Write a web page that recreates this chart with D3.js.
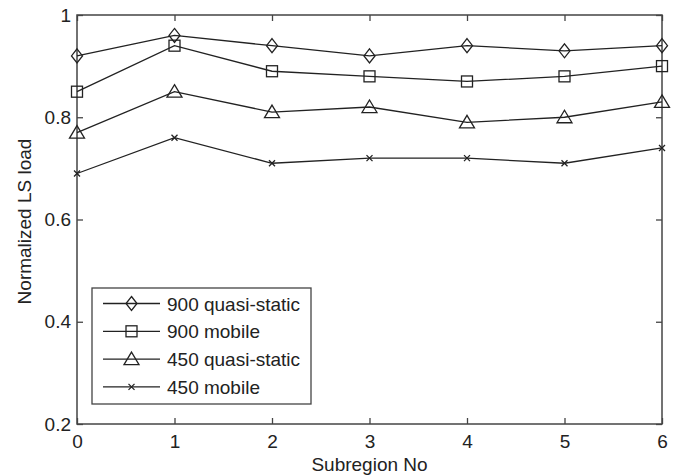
<!DOCTYPE html>
<html>
<head>
<meta charset="utf-8">
<script src="https://cdn.jsdelivr.net/npm/d3@7"></script>
<style>
  body { margin: 0; background: #fff; }
  text { font-family: "Liberation Sans", Arial, sans-serif; fill: #222; }
</style>
</head>
<body>
<svg id="chart" width="679" height="476"></svg>
<script>
// values
const subregions = [0, 1, 2, 3, 4, 5, 6];
const q900 = [0.92, 0.96, 0.94, 0.92, 0.94, 0.93, 0.94];
const m900 = [0.85, 0.94, 0.89, 0.88, 0.87, 0.88, 0.90];
const q450 = [0.77, 0.85, 0.81, 0.82, 0.79, 0.80, 0.83];
const m450 = [0.69, 0.76, 0.71, 0.72, 0.72, 0.71, 0.74];
const seriesNames = ["900 quasi-static", "900 mobile", "450 quasi-static", "450 mobile"];
const seriesMarkers = ["diamond", "square", "triangle", "cross"];
const yTicks = [0.2, 0.4, 0.6, 0.8, 1];
const yTickLabels = ["0.2", "0.4", "0.6", "0.8", "1"];

const series = [q900, m900, q450, m450].map(function(vals, i) {
    return { name: seriesNames[i], marker: seriesMarkers[i], values: vals };
});

const svg = d3.select("#chart");
const plotLeft = 77, plotRight = 662, plotTop = 15, plotBottom = 424;
const fontSize = "19px";

const x = d3.scaleLinear().domain([0, 6]).range([plotLeft, plotRight]);
const y = d3.scaleLinear().domain([0.2, 1]).range([plotBottom, plotTop]);

const axisColor = "#444";
const lineColor = "#222";

// axes (matlab style box, ticks pointing inward)
function styleAxis(g) {
    g.select(".domain").remove();
    g.selectAll("line").attr("stroke", axisColor).attr("stroke-width", 1.3);
    g.selectAll("text").style("font-size", fontSize).attr("fill", "#222");
}

svg.append("g")
    .attr("transform", "translate(0," + plotBottom + ")")
    .call(d3.axisBottom(x).tickValues(subregions).tickSize(-6).tickPadding(11).tickFormat(d3.format("d")))
    .call(styleAxis);

svg.append("g")
    .attr("transform", "translate(0," + plotTop + ")")
    .call(d3.axisTop(x).tickValues(subregions).tickSize(-6).tickFormat(""))
    .call(styleAxis);

svg.append("g")
    .attr("transform", "translate(" + plotLeft + ",0)")
    .call(d3.axisLeft(y).tickValues(yTicks).tickSize(-6).tickPadding(6)
        .tickFormat(function(d, i) { return yTickLabels[i]; }))
    .call(styleAxis);

svg.append("g")
    .attr("transform", "translate(" + plotRight + ",0)")
    .call(d3.axisRight(y).tickValues(yTicks).tickSize(-6).tickFormat(""))
    .call(styleAxis);

svg.append("rect")
    .attr("x", plotLeft).attr("y", plotTop)
    .attr("width", plotRight - plotLeft).attr("height", plotBottom - plotTop)
    .attr("fill", "none").attr("stroke", axisColor).attr("stroke-width", 1.5);

// axis titles
svg.append("text")
    .attr("x", (plotLeft + plotRight) / 2).attr("y", 471)
    .attr("text-anchor", "middle")
    .style("font-size", fontSize)
    .text("Subregion No");

svg.append("text")
    .attr("transform", "translate(30.5," + ((plotTop + plotBottom) / 2 + 2) + ") rotate(-90)")
    .attr("text-anchor", "middle")
    .style("font-size", fontSize)
    .text("Normalized LS load");

// markers
function drawMarker(g, type, cx, cy) {
    const st = { fill: "none", stroke: lineColor, "stroke-width": 1.3 };
    let m;
    if (type === "diamond") {
        m = g.append("path").attr("d", "M" + cx + "," + (cy - 7) + "L" + (cx + 5.5) + "," + cy +
            "L" + cx + "," + (cy + 7) + "L" + (cx - 5.5) + "," + cy + "Z");
    } else if (type === "square") {
        m = g.append("rect").attr("x", cx - 5.5).attr("y", cy - 5.5).attr("width", 11).attr("height", 11);
    } else if (type === "triangle") {
        m = g.append("path").attr("d", "M" + cx + "," + (cy - 7) + "L" + (cx + 7.5) + "," + (cy + 5.5) +
            "L" + (cx - 7.5) + "," + (cy + 5.5) + "Z");
    } else {
        m = g.append("path").attr("d", "M" + (cx - 3) + "," + (cy - 3) + "L" + (cx + 3) + "," + (cy + 3) +
            "M" + (cx - 3) + "," + (cy + 3) + "L" + (cx + 3) + "," + (cy - 3));
    }
    Object.keys(st).forEach(function(k) { m.attr(k, st[k]); });
}

const line = d3.line()
    .x(function(d, i) { return x(subregions[i]); })
    .y(function(d) { return y(d); });

series.forEach(function(s) {
    const g = svg.append("g");
    g.append("path")
        .datum(s.values)
        .attr("d", line)
        .attr("fill", "none")
        .attr("stroke", lineColor)
        .attr("stroke-width", 1.3);
    s.values.forEach(function(v, i) {
        drawMarker(g, s.marker, x(subregions[i]), y(v));
    });
});

// legend
const legend = svg.append("g");
legend.append("rect")
    .attr("x", 92).attr("y", 288).attr("width", 219).attr("height", 116)
    .attr("fill", "#fff").attr("stroke", axisColor).attr("stroke-width", 1.3);

series.forEach(function(s, i) {
    const ly = 303.5 + i * 27.8;
    legend.append("line")
        .attr("x1", 103).attr("x2", 160).attr("y1", ly).attr("y2", ly)
        .attr("stroke", lineColor).attr("stroke-width", 1.3);
    drawMarker(legend, s.marker, 131.5, ly);
    legend.append("text")
        .attr("x", 167).attr("y", ly + 7)
        .style("font-size", fontSize)
        .text(s.name);
});
</script>
</body>
</html>
